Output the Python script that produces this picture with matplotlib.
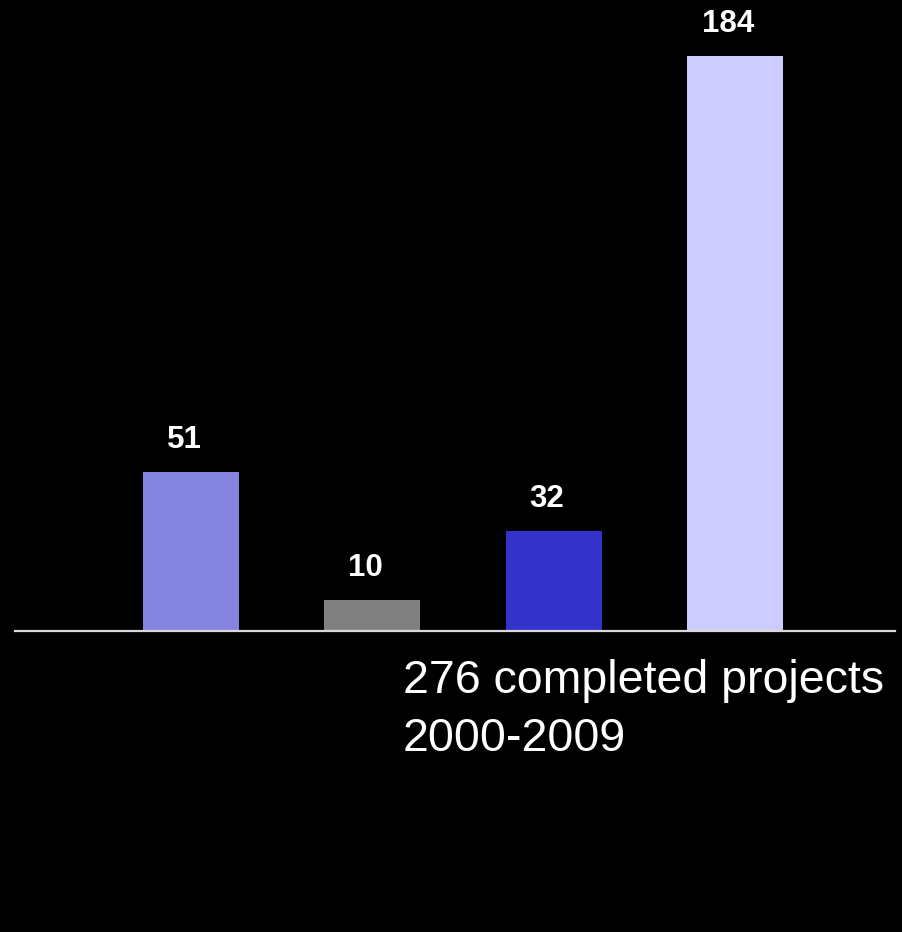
import matplotlib.pyplot as plt
from matplotlib import font_manager

# bar values and colours
values = [51, 10, 32, 184]
colors = ['#8585DF', '#808080', '#3333CC', '#CCCCFF']
caption_lines = ['276 completed projects', '2000-2009']

# make sure the regular (not narrow) Liberation Sans is used
reg_path = None
bold_path = None
for f in font_manager.findSystemFonts():
    name = f.split('/')[-1]
    if name == 'LiberationSans-Regular.ttf':
        reg_path = f
    elif name == 'LiberationSans-Bold.ttf':
        bold_path = f
reg_font = font_manager.FontProperties(fname=reg_path) if reg_path else font_manager.FontProperties(family='Liberation Sans')
bold_font = font_manager.FontProperties(fname=bold_path) if bold_path else font_manager.FontProperties(family='Liberation Sans', weight='bold')

fig = plt.figure(figsize=(9.02, 9.32), dpi=100, facecolor='black')
W, H = 902, 932
# axes placed in pixel terms: x 15..895, baseline at y=631 up to top edge
ax = fig.add_axes([15 / W, 1 - 631 / H, 880 / W, 631 / H])
ax.set_facecolor('black')

x = range(len(values))
ax.bar(x, values, width=0.53, color=colors)

bold_font.set_size(22.5)
for i, v in zip(x, values):
    ax.annotate(str(v), (i, v), xytext=(-5, 12), textcoords='offset points',
                ha='center', va='bottom', color='white',
                fontproperties=bold_font)

ax.set_xlim(-0.971, 3.883)
ax.set_ylim(0, 201.9)

for side in ['top', 'left', 'right']:
    ax.spines[side].set_visible(False)
ax.spines['bottom'].set_color('#D9D9D9')
ax.spines['bottom'].set_linewidth(1.6)
ax.set_xticks([])
ax.set_yticks([])

reg_font.set_size(33.5)
fig.text(403 / W, 1 - 693 / H, caption_lines[0], color='white',
         fontproperties=reg_font, va='baseline', ha='left')
fig.text(403 / W, 1 - 751 / H, caption_lines[1], color='white',
         fontproperties=reg_font, va='baseline', ha='left')

fig.savefig('out.png', dpi=100, facecolor='black')
